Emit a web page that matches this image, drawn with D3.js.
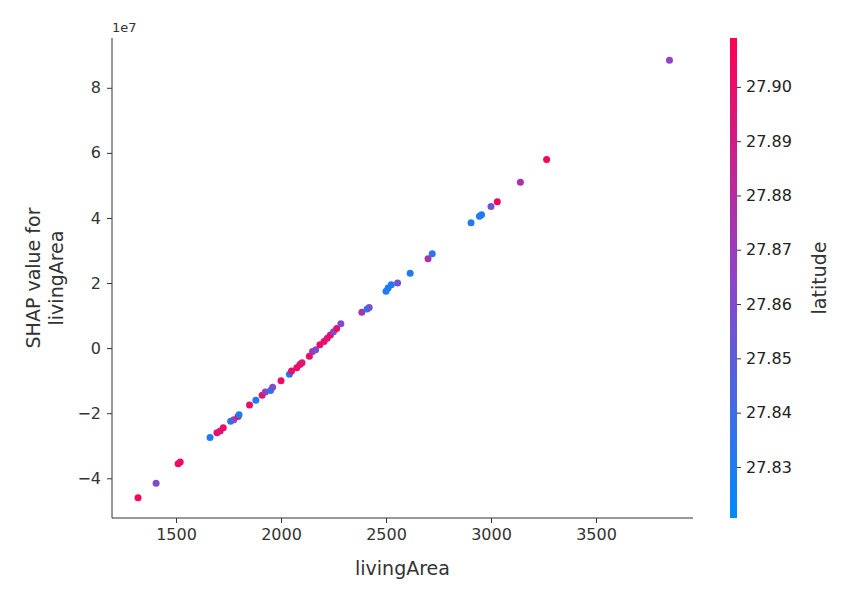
<!DOCTYPE html>
<html>
<head>
<script src="https://d3js.org/d3.v7.min.js"></script>
<style>
  body { margin: 0; background: #fff; }
  text { font-family: "DejaVu Sans", sans-serif; fill: #333; }
</style>
</head>
<body>
<div id="chart"></div>
<script>
// livingArea values
var living = [1319,1405,1510,1520,1662,1695,1710,1725,1760,1775,1795,1800,1850,1880,1910,1925,1950,1960,2000,
  2040,2050,2075,2090,2100,2135,2150,2165,2185,2205,2220,2235,2250,2265,2285,2385,2410,2420,2500,2510,2525,
  2555,2615,2700,2720,2905,2945,2955,3000,3030,3140,3265,3850];
// SHAP values (units of 1e7)
var shap = [-4.6,-4.15,-3.55,-3.5,-2.75,-2.6,-2.55,-2.45,-2.25,-2.2,-2.1,-2.05,-1.75,-1.6,-1.45,-1.35,-1.3,-1.2,-1.0,
  -0.8,-0.7,-0.6,-0.5,-0.45,-0.25,-0.1,-0.05,0.1,0.2,0.3,0.4,0.5,0.6,0.75,1.1,1.2,1.25,1.75,1.85,1.95,
  2.0,2.3,2.75,2.9,3.85,4.05,4.1,4.35,4.5,5.1,5.8,8.85];
// latitude (colour)
var lat = [27.905,27.86,27.905,27.9,27.83,27.9,27.895,27.9,27.83,27.86,27.9,27.83,27.9,27.83,27.895,27.87,27.83,27.86,27.9,
  27.83,27.9,27.9,27.9,27.895,27.9,27.875,27.86,27.9,27.9,27.895,27.9,27.86,27.9,27.86,27.875,27.83,27.855,27.83,27.83,27.83,
  27.855,27.83,27.875,27.835,27.83,27.83,27.83,27.855,27.905,27.875,27.905,27.865];
var xTicks = [1500,2000,2500,3000,3500];
var yTicks = [-4,-2,0,2,4,6,8];
var cTicks = [27.83,27.84,27.85,27.86,27.87,27.88,27.89,27.90];

var W = 852, H = 592;
var L = 112, R = 693, T = 38, B = 518;
var svg = d3.select("#chart").append("svg").attr("width", W).attr("height", H);

var x = d3.scaleLinear().domain([1195, 3962]).range([L, R]);
var y = d3.scaleLinear().domain([-5.22, 9.53]).range([B, T]);
var cDom = [27.8206, 27.909];
var color = d3.scaleLinear().domain([cDom[0], (cDom[0]+cDom[1])/2, cDom[1]])
  .range(["#008bfb", "#8e44c8", "#ff0052"]).interpolate(d3.interpolateRgb);

var xAxis = svg.append("g").attr("transform", "translate(0," + B + ")")
  .call(d3.axisBottom(x).tickValues(xTicks).tickSize(5).tickPadding(6).tickFormat(d3.format("d")));
var yAxis = svg.append("g").attr("transform", "translate(" + L + ",0)")
  .call(d3.axisLeft(y).tickValues(yTicks).tickSize(5).tickPadding(6)
    .tickFormat(function (d) { return d < 0 ? "\u2212" + (-d) : d; }));
[xAxis, yAxis].forEach(function (g) {
  g.selectAll("path,line").attr("stroke", "#333").attr("stroke-width", 1);
  g.selectAll("text").style("font-size", "16px").style("fill", "#333");
});
xAxis.select("path").attr("d", "M" + L + ",0H" + R);
yAxis.select("path").attr("d", "M0," + T + "V" + B);

svg.append("text").attr("x", L).attr("y", T - 6).style("font-size", "13px").text("1e7");
svg.append("text").attr("x", (L + R) / 2).attr("y", 575).attr("text-anchor", "middle")
  .style("font-size", "19px").text("livingArea");
var yl = svg.append("text").attr("transform", "translate(44," + ((T + B) / 2) + ") rotate(-90)")
  .attr("text-anchor", "middle").style("font-size", "19px");
yl.append("tspan").attr("x", 0).attr("dy", "-0.2em").text("SHAP value for");
yl.append("tspan").attr("x", 0).attr("dy", "1.2em").text("livingArea");

var pts = living.map(function (v, i) { return { x: v, y: shap[i], c: lat[i] }; });
svg.selectAll("circle").data(pts).enter().append("circle")
  .attr("cx", function (d) { return x(d.x); })
  .attr("cy", function (d) { return y(d.y); })
  .attr("r", 3.5)
  .attr("fill", function (d) { return color(d.c); });

// colour bar
var cx0 = 730, cw = 7;
var cy = d3.scaleLinear().domain(cDom).range([B, T]);
var grad = svg.append("defs").append("linearGradient").attr("id", "cb")
  .attr("x1", 0).attr("y1", 1).attr("x2", 0).attr("y2", 0);
d3.range(0, 1.01, 0.1).forEach(function (t) {
  grad.append("stop").attr("offset", t).attr("stop-color", color(cDom[0] + t * (cDom[1] - cDom[0])));
});
svg.append("rect").attr("x", cx0).attr("y", T).attr("width", cw).attr("height", B - T).attr("fill", "url(#cb)");
var cAxis = svg.append("g").attr("transform", "translate(" + (cx0 + cw) + ",0)")
  .call(d3.axisRight(cy).tickValues(cTicks).tickSize(4).tickPadding(5).tickFormat(d3.format(".2f")));
cAxis.select("path").remove();
cAxis.selectAll("line").attr("stroke", "#333");
cAxis.selectAll("text").style("font-size", "16px").style("fill", "#222");
svg.append("text").attr("transform", "translate(826," + ((T + B) / 2) + ") rotate(-90)")
  .attr("text-anchor", "middle").style("font-size", "19px").text("latitude");
</script>
</body>
</html>
